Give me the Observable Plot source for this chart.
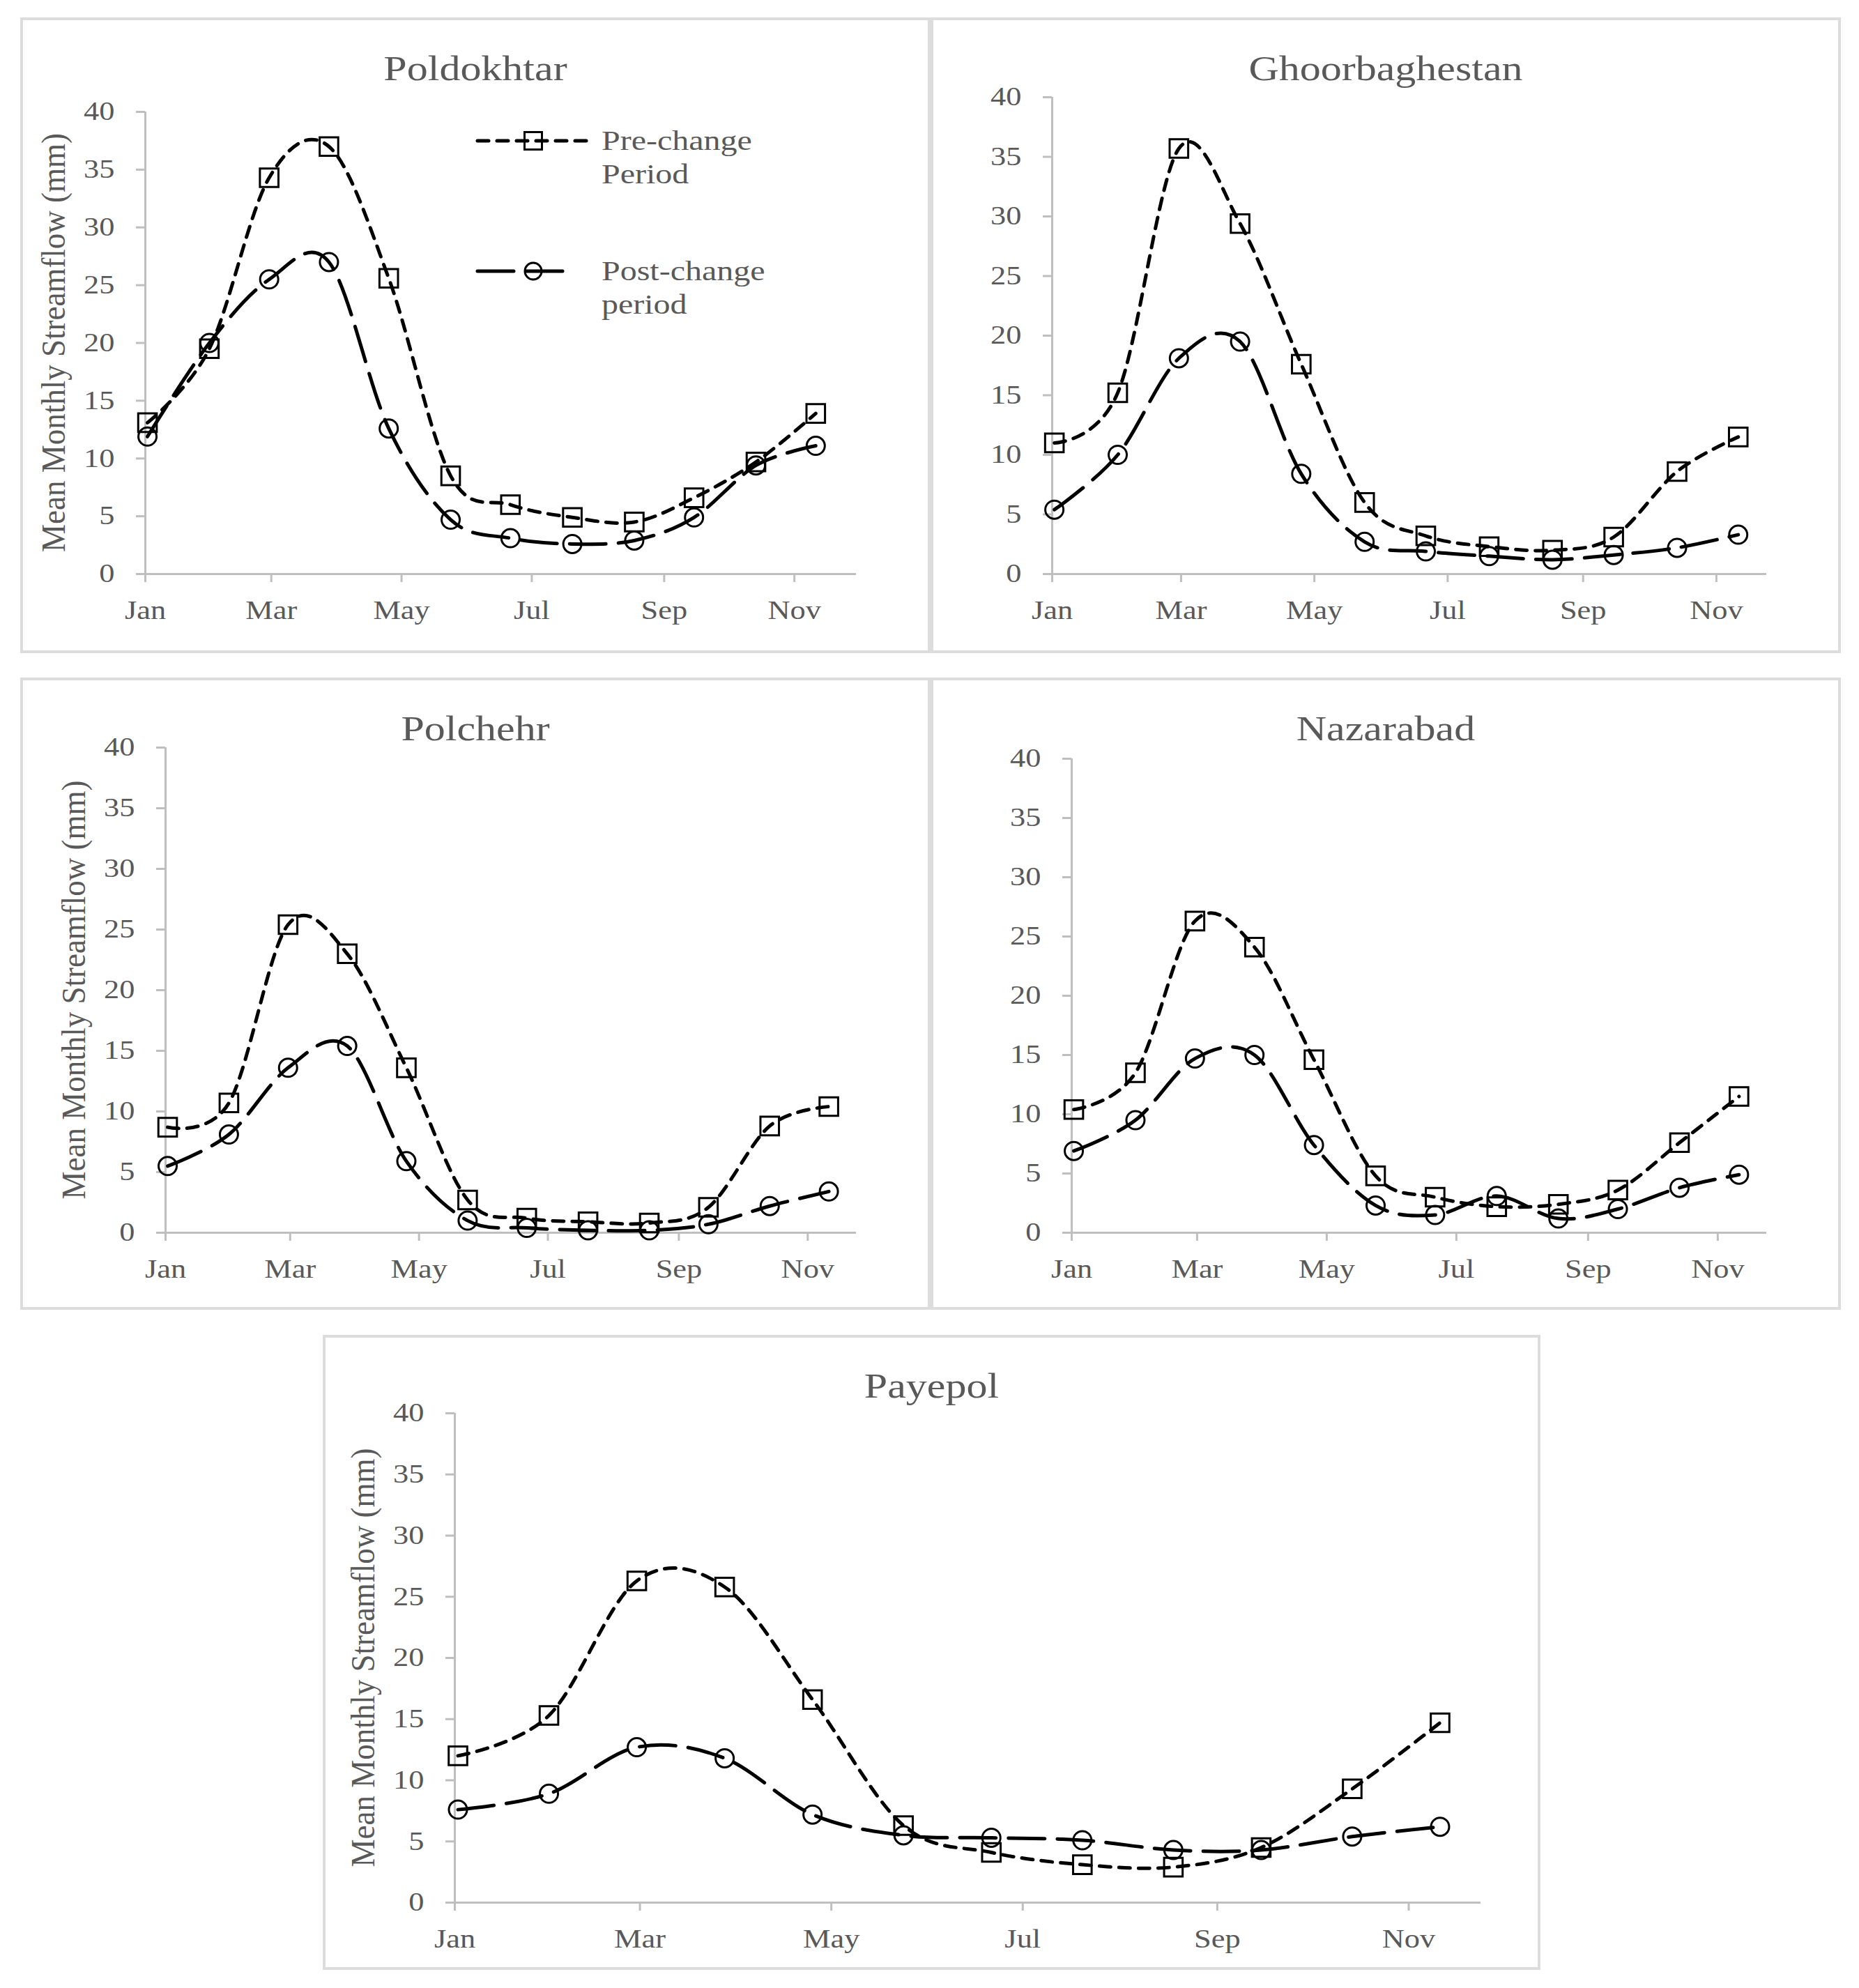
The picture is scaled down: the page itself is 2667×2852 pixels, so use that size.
<!DOCTYPE html>
<html><head><meta charset="utf-8">
<script src="https://cdn.jsdelivr.net/npm/d3@7"></script>
<script src="https://cdn.jsdelivr.net/npm/@observablehq/plot@0.6"></script>
<style>
body{margin:0;background:#fff;}
#root{position:relative;width:2667px;height:2852px;background:#fff;overflow:hidden;}
.border{position:absolute;box-sizing:border-box;border:4px solid #dcdcdc;}
.panel{position:absolute;}
.panel svg{max-width:none;overflow:visible;}
</style></head><body><div id="root"></div>
<script>
// ---- data ----
const pointDates = ["2001-01-02","2001-01-31","2001-02-28","2001-03-28","2001-04-25","2001-05-24",
                    "2001-06-21","2001-07-20","2001-08-18","2001-09-15","2001-10-14","2001-11-11"];
const monthTicks = ["2001-01-01","2001-03-01","2001-05-01","2001-07-01","2001-09-01","2001-11-01"];
const monthTickLabels = ["Jan","Mar","May","Jul","Sep","Nov"];
const yTicks = [0,5,10,15,20,25,30,35,40];
const seriesNames = ["Pre-change Period","Post-change period"];
const yLabel = "Mean Monthly Streamflow (mm)";

const stations = ["Poldokhtar","Ghoorbaghestan","Polchehr","Nazarabad","Payepol"];
const poldokhtarPre  = [13.1,19.5,34.3,37.0,25.6,8.5,6.0,4.9,4.5,6.6,9.7,13.9];
const poldokhtarPost = [11.9,20.0,25.5,27.0,12.6,4.7,3.1,2.6,2.9,4.9,9.4,11.1];
const ghoorPre  = [11.0,15.2,35.7,29.4,17.6,6.0,3.2,2.3,2.0,3.1,8.6,11.5];
const ghoorPost = [5.4,10.0,18.1,19.5,8.4,2.7,1.9,1.5,1.2,1.6,2.2,3.3];
const polchehrPre  = [8.7,10.7,25.4,23.0,13.6,2.7,1.2,0.9,0.8,2.1,8.8,10.4];
const polchehrPost = [5.5,8.1,13.6,15.4,5.9,1.0,0.4,0.2,0.2,0.7,2.2,3.4];
const nazarabadPre  = [10.4,13.5,26.3,24.1,14.6,4.8,3.0,2.2,2.4,3.6,7.6,11.5];
const nazarabadPost = [6.9,9.5,14.7,15.0,7.4,2.3,1.5,3.1,1.2,2.0,3.8,4.9];
const payepolPre  = [12.0,15.3,26.3,25.8,16.6,6.3,4.1,3.1,2.9,4.5,9.3,14.7];
const payepolPost = [7.6,8.9,12.7,11.8,7.2,5.5,5.3,5.1,4.3,4.3,5.4,6.2];

const stationSeries = [
  [poldokhtarPre, poldokhtarPost],
  [ghoorPre, ghoorPost],
  [polchehrPre, polchehrPost],
  [nazarabadPre, nazarabadPost],
  [payepolPre, payepolPost]
];

// ---- layout (page px) ----
const layout = [
  {x:29,   y:25,   w:1306, h:912, left:208,  right:1228, top:160,  bottom:823,  ylab:true,  legend:true, xEnd:"2001-11-30"},
  {x:1335, y:25,   w:1306, h:912, left:1509, right:2534, top:139,  bottom:823,  ylab:false, legend:false, xEnd:"2001-11-24"},
  {x:29,   y:972,  w:1306, h:907, left:237,  right:1228, top:1072, bottom:1768, ylab:true,  legend:false, xEnd:"2001-11-24"},
  {x:1335, y:972,  w:1306, h:907, left:1537, right:2534, top:1088, bottom:1768, ylab:false, legend:false, xEnd:"2001-11-24"},
  {x:463,  y:1915, w:1747, h:911, left:652,  right:2124, top:2027, bottom:2729, ylab:true,  legend:false, xEnd:"2001-11-24"}
];

const TEXT = "#595959", AXIS = "#bfbfbf";
const DASH_PRE = "16,12", DASH_POST = "52,18";
const FONT = "'Liberation Serif','Times New Roman',serif";
const SX = 1.2;

const tickLabelByTime = new Map(monthTicks.map((d,i)=>[+new Date(d), monthTickLabels[i]]));
const root = document.getElementById("root");

function stretchTexts(svg){
  svg.querySelectorAll("text").forEach(t=>{
    let tr = t.getAttribute("transform");
    if(!tr){
      const xa = t.getAttribute("x"), ya = t.getAttribute("y");
      const x = xa && !isNaN(+xa) ? +xa : 0;
      let y = 0;
      if (ya && !isNaN(+ya)) { y = +ya; t.removeAttribute("y"); }
      t.removeAttribute("x");
      tr = `translate(${x},${y})`;
    }
    if (tr.includes("rotate")) t.setAttribute("transform", tr + ` scale(1,1.1)`);
    else t.setAttribute("transform", tr + ` scale(${SX},1)`);
  });
}

layout.forEach((L, k)=>{
  const [pre, post] = stationSeries[k];
  const rows = [];
  pointDates.forEach((d,i)=>{
    rows.push({date:new Date(d), v:pre[i], s:seriesNames[0]});
    rows.push({date:new Date(d), v:post[i], s:seriesNames[1]});
  });
  const preRows = rows.filter(r=>r.s===seriesNames[0]);
  const postRows = rows.filter(r=>r.s===seriesNames[1]);
  const mL = L.left - L.x, mR = L.x + L.w - L.right, mT = L.top - L.y, mB = L.y + L.h - L.bottom;
  const xStart = new Date(monthTicks[0]);

  const svg = Plot.plot({
    width: L.w, height: L.h,
    marginLeft: mL, marginRight: mR, marginTop: mT, marginBottom: mB,
    style: {fontFamily: FONT, fontSize: "37px", background: "transparent", overflow: "visible", maxWidth: "none"},
    x: {type: "utc", domain: [xStart, new Date(L.xEnd)]},
    y: {domain: [0, 40]},
    marks: [
      Plot.ruleY([0], {stroke: AXIS, strokeWidth: 3}),
      Plot.ruleX([xStart], {stroke: AXIS, strokeWidth: 3}),
      Plot.axisY({ticks: yTicks, tickSize: 13, tickPadding: 31, stroke: AXIS, strokeWidth: 3, fill: TEXT, label: null}),
      Plot.axisX({ticks: monthTicks.map(d=>new Date(d)), tickFormat: d => tickLabelByTime.get(+d),
                  tickSize: 12, tickPadding: 26, stroke: AXIS, strokeWidth: 3, fill: TEXT, label: null}),
      Plot.line(postRows, {x: "date", y: "v", curve: "cardinal", tension: 0, stroke: "black", strokeWidth: 5,
                           strokeDasharray: DASH_POST, strokeLinecap: "round"}),
      Plot.line(preRows, {x: "date", y: "v", curve: "cardinal", tension: 0, stroke: "black", strokeWidth: 5,
                          strokeDasharray: DASH_PRE, strokeLinecap: "round"}),
      Plot.dot(postRows, {x: "date", y: "v", symbol: "circle", r: 13, stroke: "black", strokeWidth: 3, fill: "none"}),
      Plot.dot(preRows, {x: "date", y: "v", symbol: "square", r: 15, stroke: "black", strokeWidth: 3, fill: "none"})
    ]
  });

  const s = d3.select(svg);
  // title
  s.append("text").attr("transform", `translate(${L.w/2},90)`).attr("text-anchor","middle")
    .attr("fill", TEXT).style("font-size","50px").text(stations[k]);
  // y label
  if (L.ylab) {
    s.append("text").attr("transform", `translate(${mL-132},${(mT + L.h - mB)/2}) rotate(-90)`)
      .attr("text-anchor","middle").attr("dy","0.35em").attr("fill", TEXT).style("font-size","45px").text(yLabel);
  }
  // legend
  if (L.legend) {
    const g = s.append("g");
    const ox = -L.x, oy = -L.y;
    g.append("line").attr("x1",685+ox).attr("x2",847+ox).attr("y1",202+oy).attr("y2",202+oy)
      .attr("stroke","black").attr("stroke-width",5).attr("stroke-dasharray",DASH_PRE).attr("stroke-linecap","round");
    g.append("rect").attr("x",765+ox-12.5).attr("y",202+oy-12.5).attr("width",25).attr("height",25)
      .attr("fill","none").attr("stroke","black").attr("stroke-width",3);
    g.append("line").attr("x1",685+ox).attr("x2",823+ox).attr("y1",389+oy).attr("y2",389+oy)
      .attr("stroke","black").attr("stroke-width",5).attr("stroke-dasharray",DASH_POST).attr("stroke-linecap","round");
    g.append("circle").attr("cx",765+ox).attr("cy",389+oy).attr("r",12)
      .attr("fill","none").attr("stroke","black").attr("stroke-width",3);
    const lab = (txt, x, y) => g.append("text").attr("transform",`translate(${x+ox},${y+oy})`)
      .attr("text-anchor","start").attr("fill",TEXT).style("font-size","40px").text(txt);
    const [a1, a2] = seriesNames[0].split(" ");
    const [b1, b2] = seriesNames[1].split(" ");
    lab(a1, 863, 215); lab(a2, 863, 263);
    lab(b1, 863, 402); lab(b2, 863, 450);
  }
  stretchTexts(svg);

  const border = document.createElement("div");
  border.className = "border";
  Object.assign(border.style, {left: L.x+"px", top: L.y+"px", width: L.w+"px", height: L.h+"px"});
  root.appendChild(border);
  const holder = document.createElement("div");
  holder.className = "panel";
  Object.assign(holder.style, {left: L.x+"px", top: L.y+"px", width: L.w+"px", height: L.h+"px"});
  holder.appendChild(svg);
  root.appendChild(holder);
});
</script></body></html>
